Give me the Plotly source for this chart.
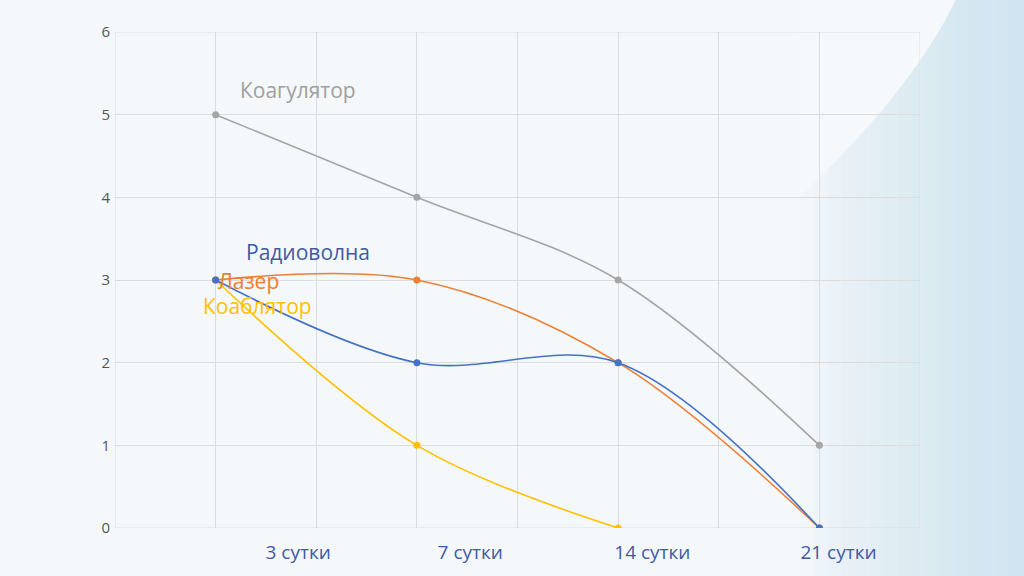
import plotly.graph_objects as go

# Data
x_pos = [1, 3, 5, 7]
periods = ["3 сутки", "7 сутки", "14 сутки", "21 сутки"]
label_pos = [1.82, 3.53, 5.34, 7.19]
koagulyator = [5, 4, 3, 1]
lazer = [3, 3, 2, 0]
radiovolna = [3, 2, 2, 0]
koablyator = [3, 1, 0]

series = [
    ("Коагулятор", koagulyator, "#a5a5a5", "#a0a0a0", 1.82, 5.30),
    ("Лазер", lazer, "#ed7d31", "#ed7d31", 1.33, 2.99),
    ("Коаблятор", koablyator, "#ffc000", "#ffc000", 1.42, 2.69),
    ("Радиоволна", radiovolna, "#4472c4", "#3f5aa6", 1.92, 3.34),
]

L, R, T, B = 115, 104, 32, 48
W, H = 1024, 576
pw, ph = W - L - R, H - T - B


def px(x):
    return (x - L) / pw


def py(y):
    return (H - B - y) / ph


fig = go.Figure()

# background decoration: right-side blue gradient
n = 16
for i in range(n):
    x0 = 800 + i * (W - 800) / n
    fig.add_shape(type="rect", xref="paper", yref="paper",
                  x0=px(x0), x1=px(W + 5), y0=py(H + 5), y1=py(-5),
                  fillcolor="rgba(200,222,236,0.07)", line_width=0, layer="below")
# white swoosh left of the top-right arc
fig.add_shape(type="path", xref="paper", yref="paper",
              path=(f"M {px(798)},{py(-5)} L {px(958)},{py(-5)} "
                    f"C {px(935)},{py(45)} {px(890)},{py(110)} {px(810)},{py(187)} "
                    f"C {px(805)},{py(192)} {px(800)},{py(196)} {px(798)},{py(198)} Z"),
              fillcolor="#f6f9fb", line_width=0, layer="below")

for name, vals, col, tcol, lx, ly in series:
    fig.add_trace(go.Scatter(
        x=x_pos[:len(vals)], y=vals, mode="lines+markers", name=name,
        line=dict(color=col, width=1.6, shape="spline", smoothing=1),
        marker=dict(color=col, size=7), showlegend=False))
    fig.add_annotation(x=lx, y=ly, text=name, showarrow=False,
                       font=dict(family="Open Sans", size=21, color=tcol),
                       xanchor="center", yanchor="middle")

# invisible trace for label axis
fig.add_trace(go.Scatter(x=label_pos, y=[0] * 4, xaxis="x2", mode="markers",
                         marker=dict(opacity=0), showlegend=False, hoverinfo="skip"))

fig.update_layout(
    width=W, height=H,
    margin=dict(l=L, r=R, t=T, b=B),
    paper_bgcolor="#f5f8fa", plot_bgcolor="rgba(0,0,0,0)",
    font=dict(family="Open Sans"),
    xaxis=dict(range=[0, 8], tickvals=list(range(9)), showticklabels=False,
               showgrid=True, gridcolor="#dcdcdc", gridwidth=1, zeroline=False,
               showline=False, ticks="", automargin=False),
    xaxis2=dict(range=[0, 8], overlaying="x", side="bottom", tickvals=label_pos,
                ticktext=periods, showgrid=False, zeroline=False, ticks="",
                ticklabelstandoff=11, automargin=False,
                tickfont=dict(family="Open Sans", size=19, color="#3f5aa6")),
    yaxis=dict(range=[0, 6], dtick=1, showgrid=True, gridcolor="#dcdcdc",
               gridwidth=1, zeroline=False, showline=False, ticks="",
               ticklabelstandoff=4, automargin=False,
               tickfont=dict(family="Open Sans", size=15, color="#555555")),
)
# border gridlines
for (x0, x1, y0, y1) in [(0, 8, 6, 6), (8, 8, 0, 6), (0, 0, 0, 6), (0, 8, 0, 0)]:
    fig.add_shape(type="line", xref="x", yref="y", x0=x0, x1=x1, y0=y0, y1=y1,
                  line=dict(color="#dcdcdc", width=1), layer="below")

fig.write_html("out.html", config={"displayModeBar": False},
               post_script="document.body.style.margin='0';")
